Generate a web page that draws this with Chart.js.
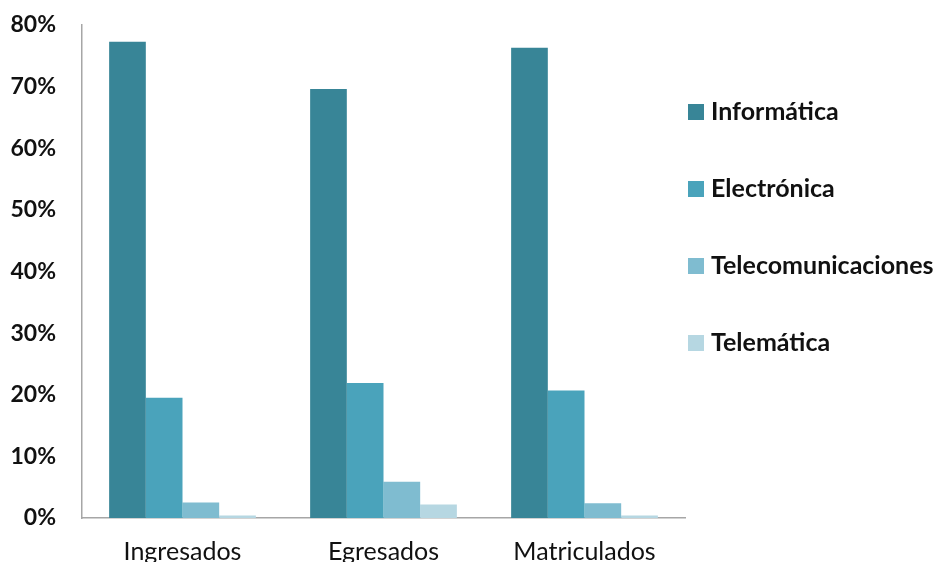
<!DOCTYPE html>
<html><head><meta charset="utf-8">
<script src="https://cdn.jsdelivr.net/npm/chart.js@4/dist/chart.umd.min.js"></script>
<style>html,body{margin:0;padding:0;background:#fff}#wrap{width:936px;height:562px}</style>
</head><body><div id="wrap"><canvas id="c" width="936" height="562"></canvas></div>
<script>
const categories = ["Ingresados", "Egresados", "Matriculados"];
const seriesNames = ["Informática", "Electrónica", "Telecomunicaciones", "Telemática"];
const informatica = [77.3, 69.6, 76.3];
const electronica = [19.5, 21.9, 20.7];
const telecomunicaciones = [2.5, 5.9, 2.4];
const telematica = [0.4, 2.2, 0.4];
const yTicks = [0, 10, 20, 30, 40, 50, 60, 70, 80];
const colors = ["#388597", "#4aa3bb", "#7fbcd0", "#b6d7e2"];

const seriesValues = [informatica, electronica, telecomunicaciones, telematica];

const legendPlugin = {
  id: 'customLegend',
  afterDraw(chart) {
    const ctx = chart.ctx;
    ctx.save();
    chart.data.datasets.forEach((ds, i) => {
      const cy = 112 + i * 77;
      ctx.fillStyle = ds.backgroundColor;
      ctx.fillRect(688, cy - 8, 16, 16);
      ctx.fillStyle = '#111';
      ctx.font = 'bold 25px Lato';
      ctx.textBaseline = 'middle';
      ctx.textAlign = 'left';
      ctx.fillText(ds.label, 711, cy);
    });
    ctx.restore();
  }
};

new Chart(document.getElementById('c'), {
  type: 'bar',
  data: {
    labels: categories,
    datasets: seriesNames.map((n, i) => ({
      label: n,
      data: seriesValues[i],
      backgroundColor: colors[i],
      borderWidth: 0,
      categoryPercentage: 0.73,
      barPercentage: 1.0
    }))
  },
  options: {
    responsive: false,
    animation: false,
    devicePixelRatio: 1,
    layout: { padding: { top: 25, right: 251, left: 0, bottom: 0 } },
    plugins: { legend: { display: false }, tooltip: { enabled: false } },
    scales: {
      x: {
        grid: { display: false, drawTicks: false },
        border: { display: true, color: '#a6a6a6', width: 1.5 },
        ticks: { color: '#111', font: { family: 'Lato', size: 25 }, padding: 19, maxRotation: 0 },
        afterFit(s) { s.height = 44; s.paddingLeft = 0; s.paddingRight = 0; }
      },
      y: {
        min: 0, max: 80,
        afterBuildTicks(s) { s.ticks = yTicks.map(v => ({ value: v })); },
        grid: { display: false, drawTicks: false },
        border: { display: true, color: '#a6a6a6', width: 1.5 },
        ticks: { color: '#111', font: { family: 'Lato', size: 23, weight: 'bold' }, padding: 26,
          callback: v => v + '%' },
        afterFit(s) { s.width = 82; s.paddingTop = 0; s.paddingBottom = 0; }
      }
    }
  },
  plugins: [legendPlugin]
});
</script>
</body></html>
